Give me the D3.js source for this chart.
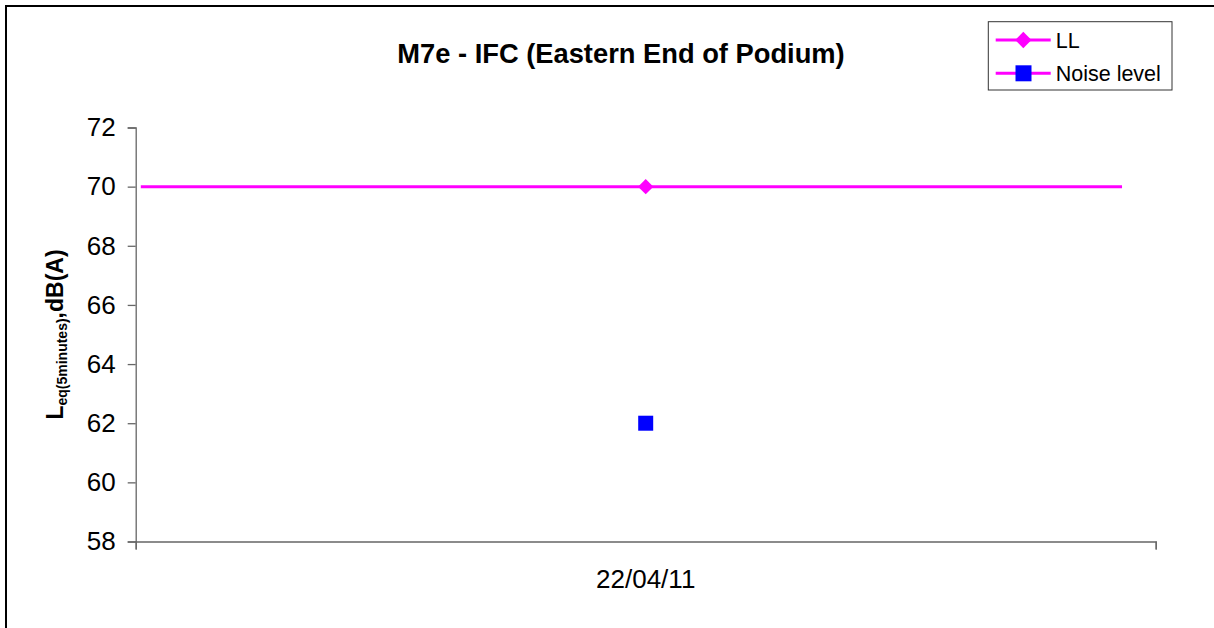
<!DOCTYPE html>
<html>
<head>
<meta charset="utf-8">
<script src="https://cdn.jsdelivr.net/npm/d3@7"></script>
<style>
  body { margin: 0; background: #fff; }
  svg { display: block; font-family: Arial, "Liberation Sans", sans-serif; }
</style>
</head>
<body>
<div id="chart"></div>
<script>
// data
const categories = ['22/04/11'];
const llValues = [70];
const noiseValues = [62];
// LL limit line runs across almost the whole category axis (fraction of axis)
const llSpan = [0.005, 0.967];
const yTicks = [58, 60, 62, 64, 66, 68, 70, 72];
const chartTitle = 'M7e - IFC (Eastern End of Podium)';
const legendItems = ['LL', 'Noise level'];

const width = 1214;
const height = 628;
const margin = { top: 127.5, right: 58.3, bottom: 86.5, left: 135.7 };
const plotW = width - margin.left - margin.right;
const plotH = height - margin.top - margin.bottom;

const svg = d3.select('#chart')
  .append('svg')
  .attr('width', width)
  .attr('height', height);

svg.append('rect')
  .attr('width', width)
  .attr('height', height)
  .attr('fill', '#fff');

// outer frame (right and bottom run off the picture)
svg.append('rect')
  .attr('x', 6)
  .attr('y', 6)
  .attr('width', width + 20)
  .attr('height', height + 20)
  .attr('fill', 'none')
  .attr('stroke', '#000')
  .attr('stroke-width', 2);

const figure = svg.append('g')
  .attr('transform', `translate(${margin.left},${margin.top})`);

// scales
const yscale = d3.scaleLinear()
  .domain([58, 72])
  .range([plotH, 0]);

const xband = d3.scaleBand()
  .domain(categories)
  .range([0, plotW]);

const xfrac = d3.scaleLinear()
  .domain([0, 1])
  .range([0, plotW]);

const xedges = d3.scaleLinear()
  .domain([0, categories.length])
  .range([0, plotW]);

// y axis
const yAxis = figure.append('g')
  .attr('class', 'yAxis')
  .call(d3.axisLeft(yscale).tickValues(yTicks).tickSize(8).tickPadding(12).tickFormat(d3.format('d')));

// x axis line + boundary ticks
const xAxis = figure.append('g')
  .attr('class', 'xAxis')
  .attr('transform', `translate(0,${plotH})`)
  .call(d3.axisBottom(xedges).tickValues(d3.range(0, categories.length + 1)).tickSize(8).tickFormat(''));

// category labels
const xLabels = figure.append('g')
  .attr('transform', `translate(0,${plotH})`)
  .call(d3.axisBottom(xband).tickSize(0).tickPadding(28));
xLabels.select('.domain').remove();

[yAxis, xAxis].forEach(ax => {
  ax.select('.domain').attr('stroke', '#666').attr('stroke-width', 1.3);
  ax.selectAll('.tick line').attr('stroke', '#666').attr('stroke-width', 1.3);
});
[yAxis, xLabels].forEach(ax => {
  ax.selectAll('text')
    .attr('font-family', 'Arial, "Liberation Sans", sans-serif')
    .attr('font-size', 26)
    .attr('fill', '#000');
});

// LL line
const llLine = d3.line()
  .x(d => xfrac(d))
  .y(() => yscale(llValues[0]));

figure.append('path')
  .datum(llSpan)
  .attr('d', llLine)
  .attr('fill', 'none')
  .attr('stroke', '#ff00ff')
  .attr('stroke-width', 3);

// LL markers (diamonds)
figure.selectAll('.ll-pt')
  .data(llValues)
  .enter()
  .append('path')
  .attr('class', 'll-pt')
  .attr('d', d3.symbol(d3.symbolDiamond2, 150))
  .attr('transform', (d, i) => `translate(${xband(categories[i]) + xband.bandwidth() / 2},${yscale(d)})`)
  .attr('fill', '#ff00ff');

// noise level markers (squares)
figure.selectAll('.noise-pt')
  .data(noiseValues)
  .enter()
  .append('rect')
  .attr('class', 'noise-pt')
  .attr('x', (d, i) => xband(categories[i]) + xband.bandwidth() / 2 - 7.5)
  .attr('y', d => yscale(d) - 7.5)
  .attr('width', 15)
  .attr('height', 15)
  .attr('fill', '#0000ff');

// title
svg.append('text')
  .attr('x', 621)
  .attr('y', 63)
  .attr('text-anchor', 'middle')
  .attr('font-size', 27.3)
  .attr('font-weight', 'bold')
  .text(chartTitle);

// y label
const ylab = svg.append('text')
  .attr('transform', 'translate(63,334.5) rotate(-90)')
  .attr('text-anchor', 'middle')
  .attr('font-weight', 'bold')
  .attr('font-size', 23);
ylab.append('tspan').text('L');
ylab.append('tspan').attr('font-size', 14).attr('dy', 4).text('eq(5minutes)');
ylab.append('tspan').attr('dy', -4).text(',dB(A)');

// legend
const legend = svg.append('g');
legend.append('rect')
  .attr('x', 988.3)
  .attr('y', 21.7)
  .attr('width', 183.7)
  .attr('height', 68.3)
  .attr('fill', '#fff')
  .attr('stroke', '#333')
  .attr('stroke-width', 1);

const legendRows = legend.selectAll('.leg')
  .data(legendItems)
  .enter()
  .append('g')
  .attr('class', 'leg')
  .attr('transform', (d, i) => `translate(0,${40 + i * 33.3})`);

legendRows.append('line')
  .attr('x1', 995.7)
  .attr('x2', 1050.7)
  .attr('stroke', '#ff00ff')
  .attr('stroke-width', 3);

legendRows.filter((d, i) => i === 0)
  .append('path')
  .attr('d', d3.symbol(d3.symbolDiamond2, 170))
  .attr('transform', 'translate(1023.3,0)')
  .attr('fill', '#ff00ff');

legendRows.filter((d, i) => i === 1)
  .append('rect')
  .attr('x', 1015.5)
  .attr('y', -8)
  .attr('width', 16)
  .attr('height', 16)
  .attr('fill', '#0000ff');

legendRows.append('text')
  .attr('x', 1055.7)
  .attr('dy', '0.36em')
  .attr('font-size', 21.5)
  .text(d => d);
</script>
</body>
</html>
